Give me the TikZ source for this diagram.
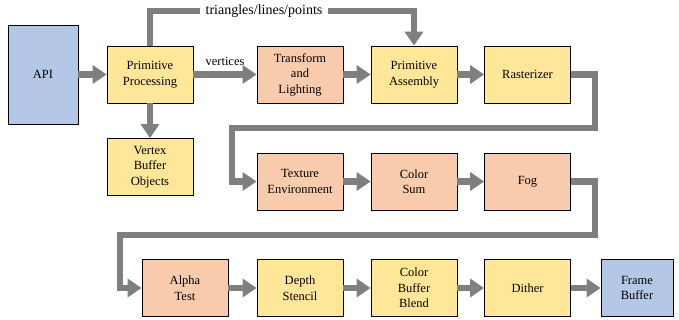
\documentclass[tikz,border=0pt]{standalone}
\usepackage{fontspec}
\setmainfont{Liberation Serif}
\usetikzlibrary{arrows.meta}
\definecolor{apiblue}{HTML}{B4C7E7}
\definecolor{stageyellow}{HTML}{FFE699}
\definecolor{stageorange}{HTML}{F8CBAD}
\definecolor{pipegray}{HTML}{7F7F7F}
\tikzset{
  stage/.style={draw=black, line width=0.8pt, minimum width=86pt, minimum height=57pt,
    align=center, inner sep=1pt, font=\rmfamily\fontsize{12.5}{15.5}\selectfont},
  pipe/.style={draw=pipegray, line width=6.5pt, -{Triangle[length=14pt,width=18pt]}},
  tag/.style={font=\rmfamily\fontsize{12.5}{15}\selectfont, inner sep=1pt},
}
\begin{document}
\begin{tikzpicture}[x=1pt, y=-1pt]
      \useasboundingbox (0,0) rectangle (679,320);
      % boxes
      \node[stage, fill=apiblue, minimum width=70pt, minimum height=99pt] (api) at (43,74.5) {API};
      \node[stage, fill=stageyellow] (pp) at (150,74.5) {Primitive\\Processing};
      \node[stage, fill=stageyellow] (vbo) at (150,167) {Vertex\\Buffer\\Objects};
      \node[stage, fill=stageorange] (tl) at (300,74.5) {Transform\\and\\Lighting};
      \node[stage, fill=stageyellow] (pa) at (414,74.5) {Primitive\\Assembly};
      \node[stage, fill=stageyellow] (rast) at (527.5,74.5) {Rasterizer};
      \node[stage, fill=stageorange] (tex) at (300,181.5) {Texture\\Environment};
      \node[stage, fill=stageorange] (csum) at (414,181.5) {Color\\Sum};
      \node[stage, fill=stageorange] (fog) at (527.5,181.5) {Fog};
      \node[stage, fill=stageorange] (alpha) at (185,288) {Alpha\\Test};
      \node[stage, fill=stageyellow] (depth) at (300,288) {Depth\\Stencil};
      \node[stage, fill=stageyellow] (blend) at (414,288) {Color\\Buffer\\Blend};
      \node[stage, fill=stageyellow] (dither) at (527.5,288) {Dither};
      \node[stage, fill=apiblue, minimum width=72pt] (fb) at (637,288) {Frame\\Buffer};
      % bends
      \coordinate (topL) at (150,11);
      \coordinate (topR) at (414,11);
      \coordinate (rastR) at (595,128);
      \coordinate (texL) at (232,128);
      \coordinate (fogR) at (595,235);
      \coordinate (alphaL) at (120,235);
      % arrows
      \draw[pipe] (api) -- (pp);
      \draw[pipe] (pp) -- (tl) node[tag, midway, above=5pt] {vertices};
      \draw[pipe] (pp) -- (vbo);
      \draw[pipe] (pp.north) -- (topL) -- (topR) -- (pa.north);
      \node[tag, fill=white, inner xsep=6pt, font=\rmfamily\fontsize{14}{16}\selectfont] (prims) at (264,11) {triangles/lines/points};
      \draw[pipe] (tl) -- (pa);
      \draw[pipe] (pa) -- (rast);
      \draw[pipe] (rast.east) -| (rastR) -- (texL) |- (tex.west);
      \draw[pipe] (tex) -- (csum);
      \draw[pipe] (csum) -- (fog);
      \draw[pipe] (fog.east) -| (fogR) -- (alphaL) |- (alpha.west);
      \draw[pipe] (alpha) -- (depth);
      \draw[pipe] (depth) -- (blend);
      \draw[pipe] (blend) -- (dither);
      \draw[pipe] (dither) -- (fb);
    \end{tikzpicture}
\end{document}
